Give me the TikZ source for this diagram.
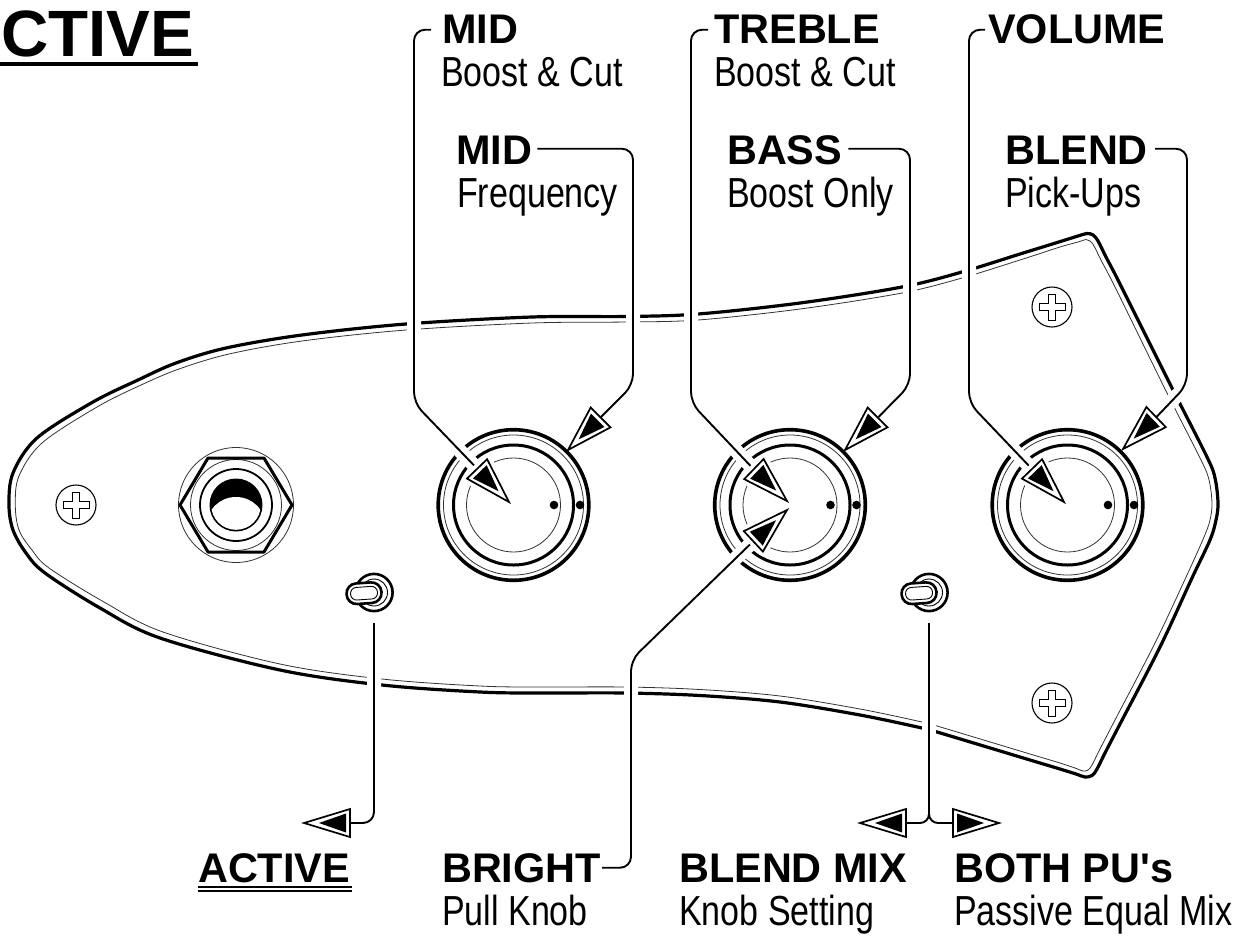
\documentclass[tikz,border=0pt]{standalone}
\usepackage{fontspec}
\setmainfont{Liberation Sans}
\newfontfamily\headfam{Liberation Sans}
\newfontfamily\condfam[FakeStretch=0.81]{Liberation Sans}
\newcommand\headfont{\headfam\fontsize{41.4}{41.4}\selectfont\bfseries}
\newcommand\subfont{\condfam\fontsize{42}{42}\selectfont}
\newcommand\titlefont{\fontsize{65.5}{65.5}\selectfont\bfseries}
\newcommand\conn[1]{\draw[halo,rounded corners=11pt] #1; \draw[connline,rounded corners=11pt] #1;}
\newcommand\arrowbody{%
    \draw[draw=black,fill=white,line width=1.7pt,miter limit=10] (0,0) -- (-46,14) -- (-46,-14) -- cycle;
    \fill[black] (-15,0) -- (-42,9.5) -- (-42,-9.5) -- cycle;}
\tikzset{
  head/.style={anchor=base west,inner sep=0pt,font=\headfont},
  sub/.style={anchor=base west,inner sep=0pt,font=\subfont},
  halo/.style={white,line width=14pt},
  connline/.style={black,line width=1.9pt},
  thickedge/.style={black,line width=3.2pt,line cap=round,line join=round},
  thinedge/.style={black!80,line width=0.8pt},
  ahead/.pic={\arrowbody},
  aheadhalo/.pic={
    \draw[draw=white,fill=white,line width=9pt,line join=round] (0,0) -- (-46,14) -- (-46,-14) -- cycle;
    \arrowbody
  },
  knob/.pic={
    \draw[line width=3.6pt] (0,0) circle (75.3);
    \draw[thinedge] (0,0) circle (70);
    \draw[line width=3pt] (0,0) circle (60);
    \draw[thinedge] (0,0) circle (47);
    \fill (40.5,0) circle (4.3);
    \fill (66.5,0) circle (4.3);
  },
  screw/.pic={
    \draw[line width=1.1pt] (0,0) circle (20);
    \draw[line width=0.7pt] (-3.5,-13) -- (3.5,-13) -- (3.5,-3.5) -- (13,-3.5) -- (13,3.5) -- (3.5,3.5) -- (3.5,13) -- (-3.5,13) -- (-3.5,3.5) -- (-13,3.5) -- (-13,-3.5) -- (-3.5,-3.5) -- cycle;
  },
  jack/.pic={
    \draw[thinedge] (0,0) circle (57.5);
    \draw[thinedge] (0,0) circle (45.5);
    \draw[line width=3pt,line join=round] (-56,0) -- (-28,-47) -- (28,-47) -- (56,0) -- (28,47) -- (-28,47) -- cycle;
    \draw[line width=1.8pt] (0,0) circle (36);
    \fill[black] (0,0) circle (26.5);
    \begin{scope}
      \clip (0,0) circle (24.8);
      \fill[white] (0,22) circle (30);
    \end{scope}
  },
  toggle/.pic={
    \draw[line width=2.6pt] (0,0) circle (18.6);
    \draw[line width=0.9pt] (0,0) circle (13.5);
    \begin{scope}[rotate=4]
      \draw[fill=white,line width=2.6pt,rounded corners=10pt] (-27.5,-10.3) rectangle (7.5,10.3);
      \draw[line width=0.9pt,rounded corners=6pt] (-23.5,-6.3) rectangle (3.5,6.3);
    \end{scope}
  }
}
\begin{document}
\begin{tikzpicture}[x=1pt,y=-1pt]
\useasboundingbox (0,0) rectangle (1250,937);
\fill[white] (0,0) rectangle (1250,937);
% plate
\draw[thickedge] plot[smooth cycle,tension=0.55] coordinates {
 (9,505) (13,473) (37,438) (93,402) (138,380) (176,363) (226,348) (302,335) (406,324) (532,317) (626,316.5) (698,314) (800,303) (902,287) (962,272) (1020,254) (1062,241) (1078,236)
 (1087,233.5) (1093,235) (1098,241) (1106,257) (1120,284) (1172,388) (1207,457) (1215,478) (1218,503) (1216,520) (1210,540) (1192,578) (1160,647) (1120,724) (1105,753) (1097,769) (1092,775.5) (1085,777) (1076,774) (1060,769) (1030,760) (937,732) (922,728) (860,715) (780,702) (700,695.5) (625,693) (540,693) (480,692) (382,685) (280,670) (160,638) (100,608) (45,573) (26,553) (13,530)};
\draw[thinedge] plot[smooth cycle,tension=0.55] coordinates {
 (15.3,505) (19,476) (42,443) (97,407) (141,385) (179,369) (229,354) (302,341) (406,330) (532,323) (626,322) (698,320) (800,309) (902,293) (962,278) (1020,260) (1060,247) (1078,242)
 (1086,239.5) (1090,241) (1094,246) (1102,262) (1116,289) (1166,391) (1201,460) (1209,480) (1212,503) (1210,520) (1204,537) (1187,575) (1155,643) (1115,720) (1100,749) (1092,765) (1088,770) (1083,771) (1075,768) (1060,763) (1030,754) (937,726) (922,722) (860,709) (780,696) (700,689.5) (625,687) (540,687) (480,686) (382,679) (280,664) (163,632) (104,602) (49,568) (32,550) (19,530)};
% hardware
\pic at (76,505) {screw};
\pic at (1052,307) {screw};
\pic at (1052,703) {screw};
\pic at (236,505) {jack};
\pic at (513.5,505) {knob};
\pic at (790,505) {knob};
\pic at (1067.5,505) {knob};
\coordinate (swa) at (374,592.5);
\coordinate (swb) at (929,592.5);
\pic at (swa) {toggle};
\pic at (swb) {toggle};
% labels
\node[head] (tmid) at (442,43) {MID};
\node[sub] (smid) at (441,86) {Boost \& Cut};
\node[head] (fmid) at (456,164) {MID};
\node[sub] (ffreq) at (457,207) {Frequency};
\node[head] (ttreble) at (714,43) {TREBLE};
\node[sub] (streble) at (714,86) {Boost \& Cut};
\node[head] (bbass) at (727,164) {BASS};
\node[sub] (sbass) at (727,207) {Boost Only};
\node[head] (tvol) at (988,43) {VOLUME};
\node[head] (bblend) at (1005,164) {BLEND};
\node[sub] (sblend) at (1005,207) {Pick-Ups};
\node[head] (active) at (198,882) {ACTIVE};
\node[head] (bright) at (442,882) {BRIGHT};
\node[sub] (pull) at (442,925) {Pull Knob};
\node[head] (mix) at (679,882) {BLEND MIX};
\node[sub] (ksetting) at (679,925) {Knob Setting};
\node[head] (both) at (954,882) {BOTH PU's};
\node[sub] (passive) at (954,925) {Passive Equal Mix};
\node[anchor=base west,inner sep=0pt,font=\titlefont] (title) at (1,56) {CTIVE};
\draw[line width=3.6pt] (0,64) -- (197.5,64);
\draw[line width=1.6pt] (198,887) -- (352,887);
\draw[line width=1.6pt] (198,891) -- (352,891);
% arrow tips and bases
\coordinate (ta) at (509,502);   \coordinate (ba) at (476.5,468);
\coordinate (tb) at (568,450);   \coordinate (bb) at (601,417);
\coordinate (tc) at (787,501);   \coordinate (bc) at (752.5,468);
\coordinate (td) at (845,450);   \coordinate (bd) at (878.5,417);
\coordinate (te) at (787,510);   \coordinate (be) at (753,541.5);
\coordinate (tf) at (1064,502);  \coordinate (bf) at (1031,468);
\coordinate (tg) at (1123,449);  \coordinate (bg) at (1156,417.5);
\coordinate (th) at (304,823);   \coordinate (bh) at (351,823);
\coordinate (ti) at (860,823);   \coordinate (bi) at (905,823);
\coordinate (tj) at (999,823);   \coordinate (bj) at (952,823);
% connectors
\conn{([xshift=-11pt,yshift=-1pt]tmid.west) -| (414,403) -- (ba)}
\conn{([xshift=5pt,yshift=1pt]fmid.east) -| (633,385) -- (bb)}
\conn{([xshift=-6pt,yshift=-1pt]ttreble.west) -| (691,403) -- (bc)}
\conn{([xshift=6pt,yshift=1pt]bbass.east) -| (910,385) -- (bd)}
\conn{([xshift=-3pt,yshift=-1pt]tvol.west) -| (969,403) -- (bf)}
\conn{([xshift=7pt,yshift=1pt]bblend.east) -| (1187,385) -- (bg)}
\conn{([xshift=1pt]bright.east) -| (631,660) -- (be)}
\conn{([yshift=-30.5pt]swa) |- (bh)}
\draw[halo] ([yshift=-30.5pt]swb) -- (929,810);
\draw[connline,rounded corners=9pt] ([yshift=-30.5pt]swb) |- (bi);
\draw[connline,rounded corners=9pt] ([yshift=-30.5pt]swb) |- (bj);
% arrowheads
\pic[rotate=-46] at (ta) {aheadhalo};
\pic[rotate=225] at (tb) {ahead};
\pic[rotate=-44] at (tc) {aheadhalo};
\pic[rotate=225] at (td) {ahead};
\pic[rotate=43] at (te) {aheadhalo};
\pic[rotate=-46] at (tf) {aheadhalo};
\pic[rotate=224] at (tg) {ahead};
\pic[rotate=180] at (th) {ahead};
\pic[rotate=180] at (ti) {ahead};
\pic at (tj) {ahead};
\end{tikzpicture}
\end{document}
